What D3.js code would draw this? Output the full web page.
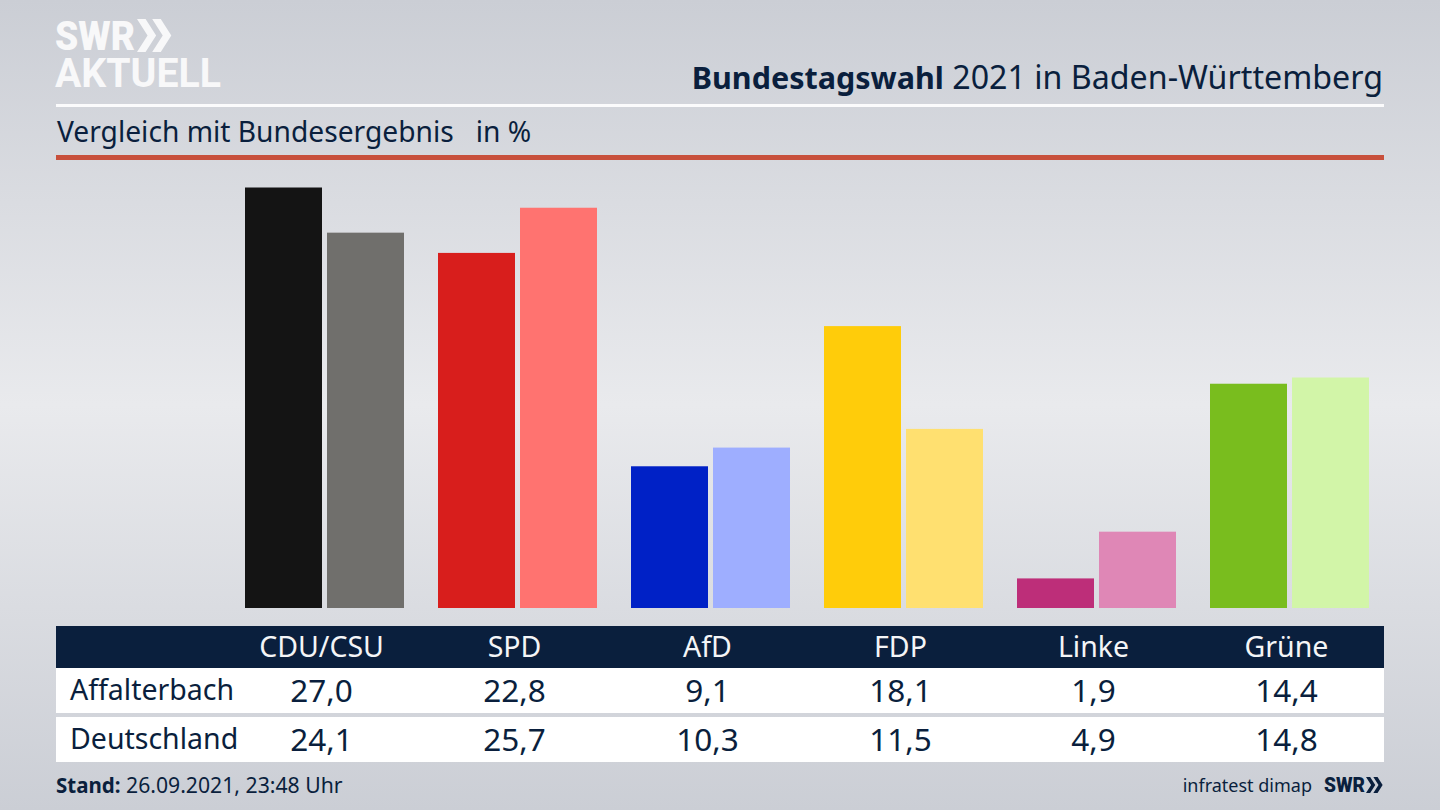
<!DOCTYPE html>
<html lang="de">
<head>
<meta charset="utf-8">
<title>Bundestagswahl 2021 in Baden-Württemberg</title>
<script src="https://cdn.jsdelivr.net/npm/d3@7"></script>
<style>
    html, body { margin: 0; padding: 0; background: #d5d7dc; }
    svg { display: block; font-family: "Noto Sans", sans-serif; }
</style>
</head>
<body>
<svg id="chart" width="1440" height="810"></svg>
<script>
// --- Data ---
const parties = ["CDU/CSU", "SPD", "AfD", "FDP", "Linke", "Grüne"];
const rowLabels = ["Affalterbach", "Deutschland"];
const affalterbach = [27.0, 22.8, 9.1, 18.1, 1.9, 14.4];
const deutschland = [24.1, 25.7, 10.3, 11.5, 4.9, 14.8];
const colorsLocal = ["#141414", "#d81e1c", "#0021c6", "#ffcc0a", "#bd2e79", "#79bd1e"];
const colorsNational = ["#706f6c", "#ff7370", "#9eaeff", "#ffe070", "#df87b6", "#d2f5a8"];

const navy = "#0a1f3d";
const svg = d3.select("#chart");
const fmt = v => v.toFixed(1).replace(".", ",");

// --- Background ---
const defs = svg.append("defs");
const bg = defs.append("linearGradient").attr("id", "bg")
    .attr("x1", 0).attr("y1", 0).attr("x2", 0).attr("y2", 1);
bg.append("stop").attr("offset", "0%").attr("stop-color", "#cbced5");
bg.append("stop").attr("offset", "50%").attr("stop-color", "#e9eaed");
bg.append("stop").attr("offset", "100%").attr("stop-color", "#cbced5");
svg.append("rect").attr("width", 1440).attr("height", 810).attr("fill", "url(#bg)");

// --- Logo ---
const chevrons = (g, x, y, h, color) => {
    const w = h * 0.32, t = h * 0.26;
    [0, h * 0.46].forEach(dx => {
        g.append("path")
            .attr("d", `M${x + dx},${y} h${t} l${w},${h / 2} l${-w},${h / 2} h${-t} l${w},${-h / 2} z`)
            .attr("fill", color);
    });
};
const logo = svg.append("g");
logo.append("text").attr("x", 55).attr("y", 50).attr("font-size", 41).attr("font-weight", 900)
    .attr("font-family", "Roboto, sans-serif").attr("fill", "#f8f8f9")
    .attr("textLength", 80).attr("lengthAdjust", "spacingAndGlyphs").text("SWR");
chevrons(logo, 137, 19, 33, "#f8f8f9");
logo.append("text").attr("x", 55).attr("y", 87).attr("font-size", 40).attr("font-weight", 700)
    .attr("font-family", "Roboto, sans-serif").attr("fill", "#f8f8f9")
    .attr("textLength", 166).attr("lengthAdjust", "spacingAndGlyphs").text("AKTUELL");

// --- Header ---
const title = svg.append("text").attr("x", 1383).attr("y", 89).attr("text-anchor", "end")
    .attr("fill", navy);
title.append("tspan").attr("font-weight", 700).attr("font-size", 30.5).text("Bundestagswahl");
title.append("tspan").attr("font-size", 32.2).text(" 2021 in Baden-Württemberg");

svg.append("rect").attr("x", 56).attr("y", 104).attr("width", 1328).attr("height", 3).attr("fill", "#fbfbfc");
svg.append("text").attr("x", 57).attr("y", 142).attr("font-size", 28.2).attr("fill", navy)
    .attr("xml:space", "preserve").text("Vergleich mit Bundesergebnis   in %");
svg.append("rect").attr("x", 56).attr("y", 155).attr("width", 1328).attr("height", 5).attr("fill", "#c8503c");

// --- Scales ---
const x = d3.scaleBand().domain(parties).range([228, 1386]).paddingInner(34 / 193).paddingOuter(17 / 193);
const x1 = d3.scaleBand().domain(["local", "national"]).range([0, x.bandwidth()]).paddingInner(5 / 82);
const y = d3.scaleLinear().domain([0, 27]).range([608, 187.5]);

// --- Bars ---
const groups = svg.append("g").selectAll("g").data(parties).enter().append("g")
    .attr("transform", d => `translate(${x(d)},0)`);

groups.append("rect")
    .attr("x", x1("local"))
    .attr("y", (d, i) => y(affalterbach[i]))
    .attr("width", x1.bandwidth())
    .attr("height", (d, i) => y(0) - y(affalterbach[i]))
    .attr("fill", (d, i) => colorsLocal[i]);

groups.append("rect")
    .attr("x", x1("national"))
    .attr("y", (d, i) => y(deutschland[i]))
    .attr("width", x1.bandwidth())
    .attr("height", (d, i) => y(0) - y(deutschland[i]))
    .attr("fill", (d, i) => colorsNational[i]);

// --- Table ---
// labels sit a little left of the bar group centre
const cx = d => x(d) + x.bandwidth() / 2 - 3;
svg.append("rect").attr("x", 56).attr("y", 626).attr("width", 1328).attr("height", 42).attr("fill", navy);
svg.append("rect").attr("x", 56).attr("y", 668).attr("width", 1328).attr("height", 45).attr("fill", "#fff");
svg.append("rect").attr("x", 56).attr("y", 717).attr("width", 1328).attr("height", 45).attr("fill", "#fff");

svg.append("g").selectAll("text").data(parties).enter().append("text")
    .attr("x", cx).attr("y", 657).attr("text-anchor", "middle")
    .attr("font-size", 28.5).attr("fill", "#f4f5f7").text(d => d);

svg.append("g").selectAll("text").data(rowLabels).enter().append("text")
    .attr("x", 70).attr("y", (d, i) => 700 + i * 49)
    .attr("font-size", 28.5).attr("fill", navy).text(d => d);

[affalterbach, deutschland].forEach((row, r) => {
    svg.append("g").selectAll("text").data(row).enter().append("text")
        .attr("x", (d, i) => cx(parties[i])).attr("y", 702 + r * 49)
        .attr("text-anchor", "middle").attr("font-size", 31.5).attr("fill", navy)
        .text(fmt);
});

// --- Footer ---
const stand = svg.append("text").attr("x", 56).attr("y", 793).attr("fill", navy);
stand.append("tspan").attr("font-weight", 700).attr("font-size", 20.5).text("Stand:");
stand.append("tspan").attr("font-size", 21.2).text(" 26.09.2021, 23:48 Uhr");

svg.append("text").attr("x", 1312).attr("y", 792).attr("text-anchor", "end")
    .attr("font-size", 18).attr("fill", navy).text("infratest dimap");
const swr = svg.append("g");
swr.append("text").attr("x", 1324).attr("y", 792).attr("font-size", 20).attr("font-weight", 900)
    .attr("font-family", "Roboto, sans-serif").attr("fill", navy)
    .attr("textLength", 41).attr("lengthAdjust", "spacingAndGlyphs").text("SWR");
chevrons(swr, 1366, 777, 16, navy);
</script>
</body>
</html>
